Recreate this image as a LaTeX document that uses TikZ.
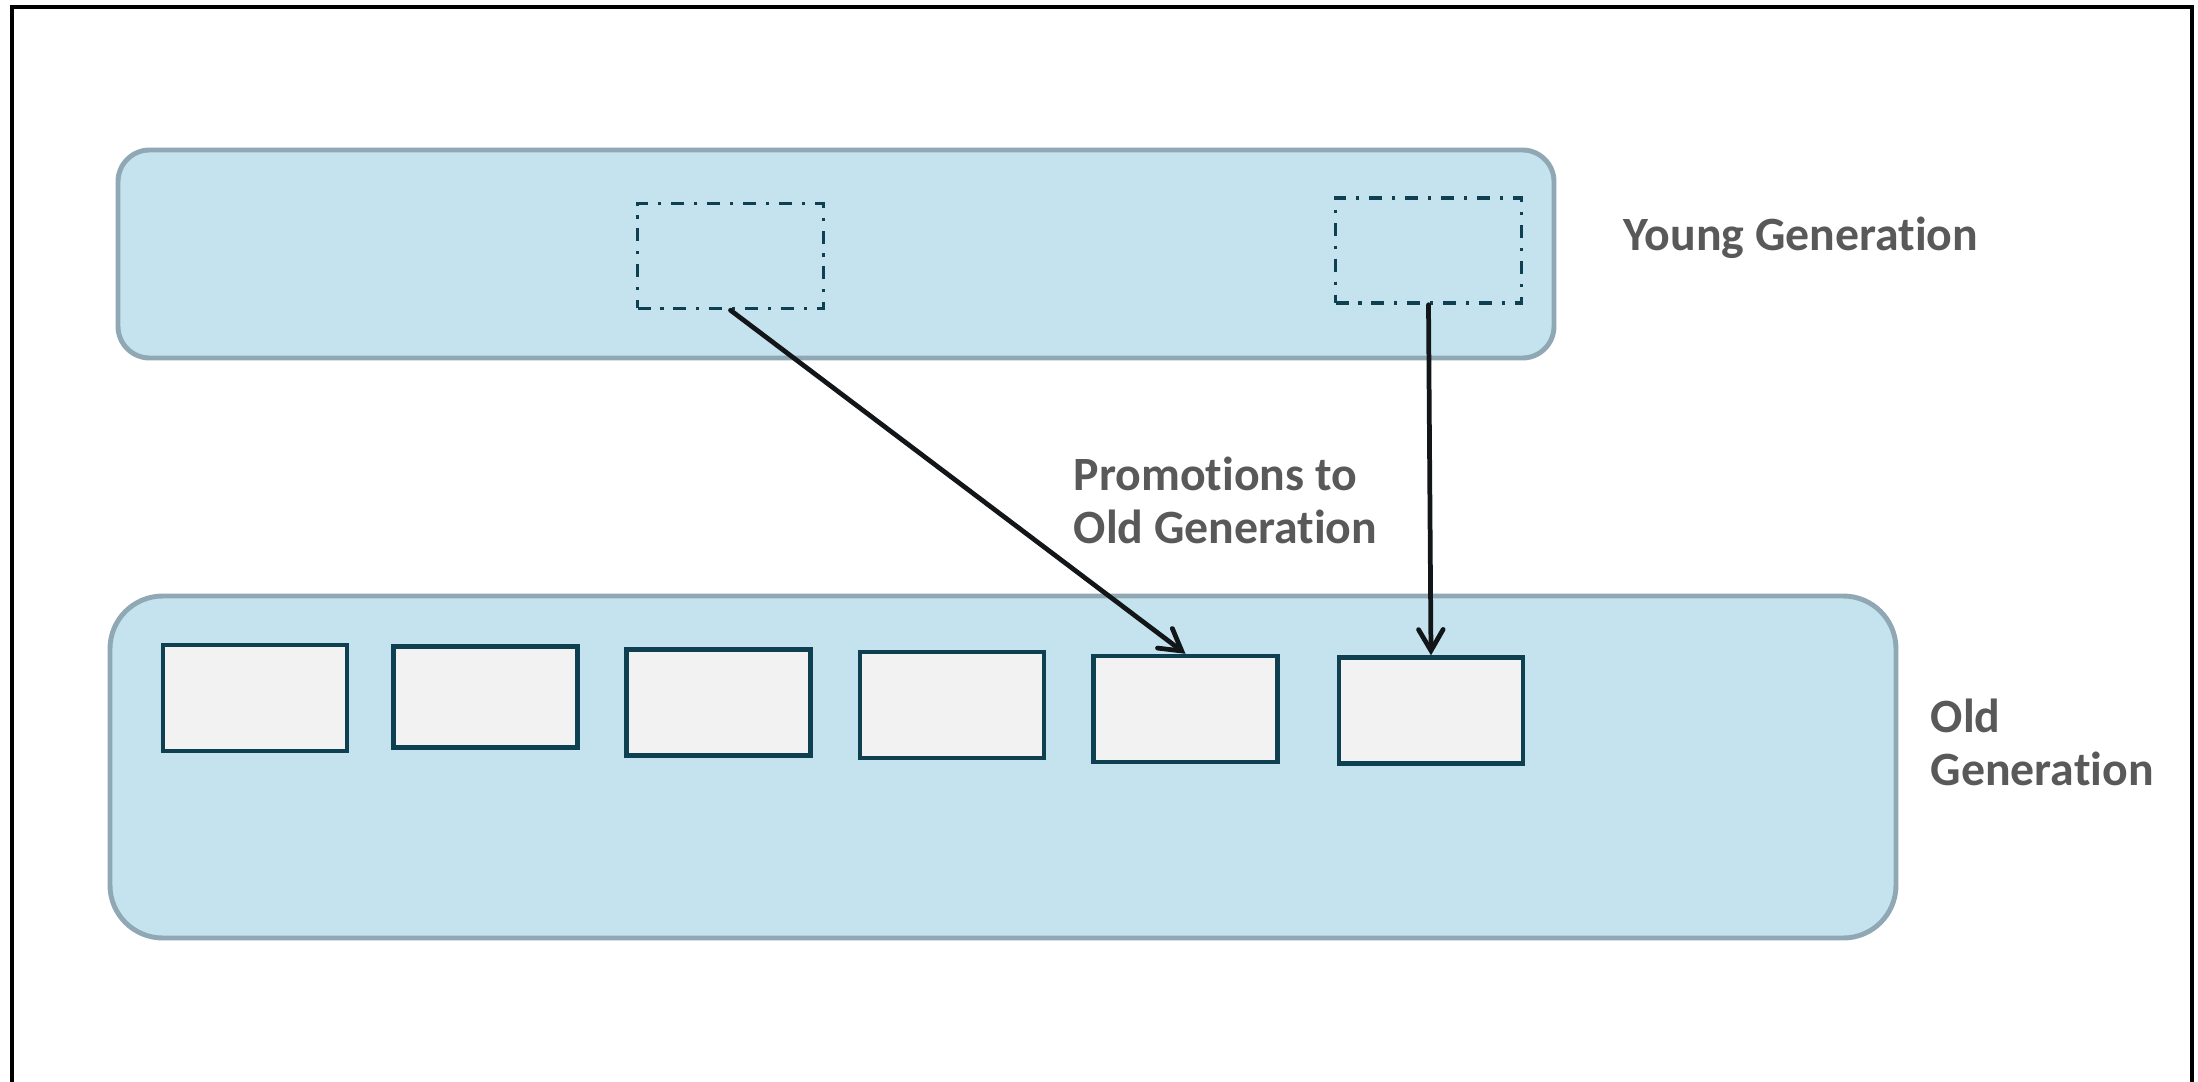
\documentclass[tikz,border=0pt]{standalone}
\usepackage{fontspec}
\setmainfont{Carlito}[Ligatures={NoCommon,NoRequired,NoContextual}]
\usetikzlibrary{arrows.meta}

\definecolor{genfill}{HTML}{C4E3EF}
\definecolor{genedge}{HTML}{8FA8B3}
\definecolor{objedge}{HTML}{0E4052}
\definecolor{objfill}{HTML}{F2F2F2}
\definecolor{labelgray}{HTML}{595959}
\definecolor{arrowblack}{HTML}{131618}

\tikzset{
  genbox/.style={draw=genedge,fill=genfill,line width=1.4pt,inner sep=0pt},
  objbox/.style={draw=objedge,fill=objfill,line width=1.25pt,inner sep=0pt,
    minimum width=18.4mm,minimum height=10.6mm},
  survivor/.style={draw=objedge,line width=1pt,inner sep=0pt,
    dash pattern=on 3.7pt off 2.8pt on 0.9pt off 2.8pt,
    minimum width=18.6mm,minimum height=10.5mm},
  promote/.style={draw=arrowblack,line width=1.35pt,line cap=round,
    -{Straight Barb[length=6pt,width=7pt,line cap=round]}},
  genlabel/.style={text=labelgray,inner sep=0pt,align=left,
    font=\fontsize{13.6}{14.8}\selectfont\bfseries}
}

\begin{document}
\begin{tikzpicture}[x=0.1mm,y=-0.1mm]
\useasboundingbox (0,0) rectangle (2198,1082);
% --- frame, open at the bottom ---
\draw[line width=1.1pt] (12,1100) -- (12,7) -- (2192,7) -- (2192,1100);
% --- generations ---
\node[genbox,rounded corners=9pt,minimum width=143.6mm,minimum height=20.8mm] (young) at (836,254) {};
\node[genbox,rounded corners=15pt,minimum width=178.6mm,minimum height=34.2mm] (old) at (1003,767) {};
% --- surviving objects in the young generation ---
\node[survivor] (surv1) at (730.5,256) {};
\node[survivor] (surv2) at (1428.5,250.5) {};
% --- objects in the old generation ---
\node[objbox] (obj1) at (255,698) {};
\node[objbox,minimum height=10.1mm] (obj2) at (485.5,697) {};
\node[objbox] (obj3) at (718.5,702.5) {};
\node[objbox] (obj4) at (952,705) {};
\node[objbox] (obj5) at (1185.5,709) {};
\node[objbox] (obj6) at (1431,710.5) {};
% --- promotions ---
\draw[promote] (surv1.south) -- (obj5.north);
\draw[promote] (surv2.south) -- (obj6.north);
% --- labels (base = last line) ---
\node[genlabel,anchor=base west] (younglbl) at (1623,251) {Young Generation};
\node[genlabel,anchor=base west] (promolbl) at (1073,543) {Promotions to\\Old Generation};
\node[genlabel,anchor=base west] (oldlbl) at (1930,785) {Old\\Generation};
\end{tikzpicture}
\end{document}
